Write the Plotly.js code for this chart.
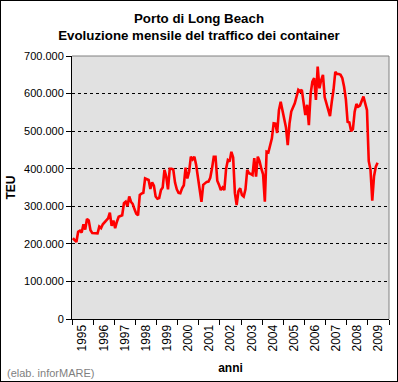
<!DOCTYPE html>
<html>
<head>
<meta charset="utf-8">
<script src="https://cdn.plot.ly/plotly-3.0.1.min.js"></script>
<style>
html, body { margin: 0; padding: 0; background: #ffffff; }
#chart { width: 396px; height: 380px; border: 1px solid #000000; }
</style>
</head>
<body>
<div id="chart"></div>
<script>
// Year labels of the category axis
const years = [1995, 1996, 1997, 1998, 1999, 2000, 2001, 2002, 2003, 2004, 2005, 2006, 2007, 2008, 2009];

// Monthly container traffic (TEU), Port of Long Beach
const teu1995 = [215000, 210000, 205000, 232000, 235000, 230000, 252000, 238000, 266000, 262000, 236000, 229000];
const teu1996 = [228000, 228000, 228000, 246000, 242000, 252000, 258000, 264000, 268000, 283000, 248000, 262000];
const teu1997 = [242000, 259000, 272000, 274000, 276000, 308000, 312000, 300000, 326000, 312000, 306000, 292000];
const teu1998 = [280000, 276000, 330000, 334000, 336000, 374000, 372000, 370000, 346000, 364000, 355000, 326000];
const teu1999 = [320000, 322000, 343000, 350000, 397000, 379000, 345000, 400000, 400000, 398000, 363000, 345000];
const teu2000 = [336000, 335000, 348000, 356000, 403000, 374000, 392000, 432000, 425000, 432000, 410000, 375000];
const teu2001 = [352000, 312000, 357000, 361000, 365000, 366000, 376000, 401000, 432000, 432000, 368000, 357000];
const teu2002 = [343000, 350000, 343000, 400000, 423000, 419000, 445000, 430000, 335000, 303000, 340000, 348000];
const teu2003 = [330000, 326000, 345000, 397000, 388000, 386000, 383000, 428000, 379000, 432000, 420000, 400000];
const teu2004 = [385000, 312000, 445000, 443000, 460000, 481000, 521000, 520000, 495000, 556000, 578000, 555000];
const teu2005 = [525000, 510000, 463000, 520000, 552000, 561000, 574000, 592000, 610000, 606000, 610000, 576000];
const teu2006 = [543000, 570000, 516000, 600000, 632000, 641000, 583000, 672000, 614000, 636000, 650000, 590000];
const teu2007 = [574000, 560000, 540000, 578000, 610000, 658000, 652000, 652000, 650000, 641000, 618000, 585000];
const teu2008 = [525000, 523000, 500000, 505000, 552000, 572000, 565000, 568000, 583000, 592000, 574000, 556000];
const teu2009 = [420000, 397000, 315000, 380000, 405000, 416000];

const yTicks = [0, 100000, 200000, 300000, 400000, 500000, 600000, 700000];

const teu = [].concat(teu1995, teu1996, teu1997, teu1998, teu1999, teu2000, teu2001,
  teu2002, teu2003, teu2004, teu2005, teu2006, teu2007, teu2008, teu2009);
const monthIndex = teu.map((v, i) => i);

// Category axis: one slot per month, labels centred in each year, ticks between years
const yearCentres = years.map((y, i) => i * 12 + 5.5);
const yearBounds = years.map((y, i) => i * 12 - 0.5).concat([years.length * 12 - 0.5]);

const FONT = '"Liberation Sans", Arial, Helvetica, sans-serif';

const trace = {
  type: 'scatter',
  mode: 'lines',
  x: monthIndex,
  y: teu,
  line: { color: '#ff0000', width: 2.6 },
  hoverinfo: 'y'
};

const layout = {
  width: 396,
  height: 380,
  margin: { l: 71, r: 8, t: 55, b: 62 },
  paper_bgcolor: '#ffffff',
  plot_bgcolor: '#e1e1e1',
  separators: ',.',
  showlegend: false,
  font: { family: FONT, size: 11, color: '#000000' },
  title: {
    text: '<b>Porto di Long Beach</b><br><b>Evoluzione mensile del traffico dei container</b>',
    font: { family: FONT, size: 13.3, color: '#000000' },
    x: 0.5, xref: 'container', xanchor: 'center',
    y: 1 - 22 / 380, yref: 'container', yanchor: 'top'
  },
  xaxis: {
    range: [-0.5, years.length * 12 - 0.5],
    tickmode: 'array',
    tickvals: yearCentres,
    ticktext: years.map(String),
    ticks: '',
    tickangle: -90,
    tickfont: { family: FONT, size: 12, color: '#000000' },
    showline: true, linecolor: '#000000', linewidth: 1,
    showgrid: false, zeroline: false,
    minor: { tickmode: 'array', tickvals: yearBounds, ticks: 'outside', ticklen: 5, tickwidth: 1, tickcolor: '#000000', showgrid: false },
    title: { text: '<b>anni</b>', font: { family: FONT, size: 12, color: '#000000' }, standoff: 13 }
  },
  yaxis: {
    range: [0, 700000],
    tickmode: 'array',
    tickvals: yTicks,
    tickformat: ',d',
    ticks: 'outside', ticklen: 5, tickwidth: 1, tickcolor: '#000000',
    tickfont: { family: FONT, size: 11, color: '#000000' },
    showline: true, linecolor: '#000000', linewidth: 1,
    showgrid: true, gridcolor: '#000000', gridwidth: 1, griddash: '3px,3px',
    zeroline: false,
    title: { text: '<b>TEU</b>', font: { family: FONT, size: 12, color: '#000000' }, standoff: 5 }
  },
  shapes: [
    { type: 'line', xref: 'paper', yref: 'paper', x0: 0, x1: 1, y0: 1, y1: 1, line: { color: '#808080', width: 1 }, layer: 'above' },
    { type: 'line', xref: 'paper', yref: 'paper', x0: 1, x1: 1, y0: 0, y1: 1, line: { color: '#808080', width: 1 }, layer: 'above' }
  ],
  annotations: [
    {
      text: '(elab. inforMARE)',
      xref: 'paper', yref: 'paper',
      x: (4 - 71) / 317, y: (318 - 372) / 263,
      xanchor: 'left', yanchor: 'middle',
      showarrow: false,
      font: { family: FONT, size: 11, color: '#7f7f7f' }
    }
  ]
};

Plotly.newPlot('chart', [trace], layout, { displayModeBar: false, staticPlot: true });
</script>
</body>
</html>
